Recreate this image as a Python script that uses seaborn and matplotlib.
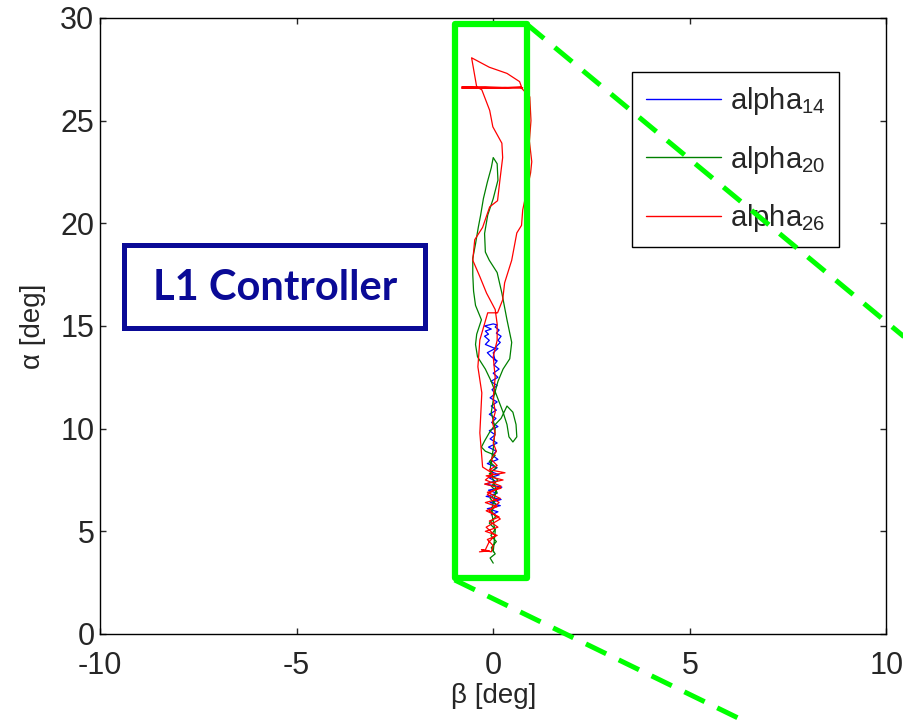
import matplotlib
matplotlib.use("Agg")
import matplotlib.pyplot as plt
import pandas as pd
import seaborn as sns
from matplotlib.patches import Rectangle
from matplotlib.lines import Line2D

# Sideslip (beta) vs angle-of-attack (alpha) trajectories, three runs
beta_14 = [-0.05, 0.12, -0.15, 0.18, -0.08, 0.2, -0.18, 0.1, -0.12, 0.22, -0.2, 0.05,
           -0.1, 0.15, -0.05, 0.1, -0.15, 0.12, -0.02, 0.08, -0.12, 0.1, -0.08, 0.05,
           -0.1, 0.12, -0.04, 0.07, -0.1, 0.08, -0.05, 0.1, -0.08, 0.05, -0.03, 0.1,
           -0.06, 0.12, 0.0, 0.15, 0.02, 0.1, -0.05, -0.15, 0.05, -0.2, -0.1, -0.22,
           -0.12, -0.2, -0.05, -0.22, 0.0, 0.1, 0.05, 0.15, 0.08, 0.2, 0.12, 0.18,
           0.05, 0.12, 0.0, 0.05]
alpha_14 = [5.8, 5.95, 6.1, 6.25, 6.4, 6.55, 6.7, 6.85, 7.0, 7.15, 7.3, 7.45,
            7.6, 7.75, 7.9, 8.1, 8.3, 8.5, 8.7, 8.9, 9.1, 9.3, 9.5, 9.7,
            9.9, 10.1, 10.3, 10.5, 10.7, 10.9, 11.1, 11.3, 11.5, 11.7, 11.9, 12.1,
            12.3, 12.5, 12.7, 12.9, 13.1, 13.3, 13.5, 13.7, 13.9, 14.1, 14.3, 14.5,
            14.6, 14.75, 14.85, 15.0, 15.1, 15.05, 14.95, 14.8, 14.65, 14.5, 14.3, 14.2,
            13.95, 13.9, 13.7, 13.3]

beta_20 = [0.0, -0.08, 0.05, -0.05, 0.08, -0.06, 0.05, -0.1, 0.06, -0.04, 0.08, -0.08,
           0.1, -0.05, 0.12, -0.1, 0.08, -0.1, 0.05, -0.2, -0.3, -0.22, -0.1, 0.05,
           0.2, 0.35, 0.5, 0.58, 0.6, 0.5, 0.4, 0.35, 0.25, 0.15, 0.05, -0.05,
           -0.2, -0.4, -0.45, -0.42, -0.3, -0.45, -0.5, -0.52, -0.52, -0.45, -0.38, -0.32,
           -0.25, -0.15, -0.05, 0.0, 0.1, 0.12, 0.0, -0.14, -0.22, -0.2, -0.1, 0.1,
           0.22, 0.35, 0.47, 0.42, 0.25, 0.12, 0.02, -0.05, 0.05, 0.0, -0.08, 0.08,
           -0.05, 0.05, 0.0]
alpha_20 = [3.45, 3.7, 3.9, 4.2, 4.5, 4.8, 5.1, 5.4, 5.7, 6.0, 6.3, 6.6,
            6.9, 7.2, 7.5, 7.8, 8.1, 8.4, 8.7, 8.9, 9.1, 9.4, 9.8, 10.2,
            10.5, 11.1, 10.8, 10.2, 9.6, 9.35, 9.6, 10.2, 10.8, 11.3, 11.8, 12.3,
            12.9, 13.5, 14.1, 14.6, 15.3, 16.0, 16.7, 17.5, 18.3, 19.0, 19.8, 20.4,
            21.2, 22.0, 22.7, 23.2, 22.9, 22.1, 21.2, 20.4, 19.5, 18.6, 18.2, 17.6,
            16.6, 15.3, 14.2, 13.4, 12.9, 12.3, 11.6, 10.8, 10.0, 9.0, 8.0, 7.0,
            6.0, 5.0, 4.0]

beta_26 = [-0.35, -0.1, -0.3, -0.05, 0.0, -0.15, 0.1, -0.2, 0.12, -0.1, 0.15, -0.18,
           0.1, -0.2, 0.18, -0.15, 0.2, -0.22, 0.25, -0.18, 0.3, -0.1, 0.1, -0.05,
           0.08, 0.0, 0.05, -0.02, 0.05, 0.0, 0.05, 0.0, 0.1, 0.1, 0.05, -0.17,
           -0.34, -0.52, -0.47, -0.27, -0.09, 0.11, 0.17, 0.24, 0.22, -0.01, -0.09, -0.29,
           -0.42, -0.55, -0.1, 0.35, 0.67, 0.72, 0.3, -0.2, -0.8, -0.3, 0.3, 0.75,
           -0.8, 0.2, 0.7,
           0.93, 0.96, 0.92, 0.98, 0.95, 0.75, 0.72, 0.6, 0.47, 0.29, 0.24, 0.11,
           -0.14, -0.34, -0.39, -0.29, -0.34, -0.27, 0.0, -0.2, 0.2, -0.15, 0.15, -0.1,
           0.18, -0.18, 0.05, -0.1, -0.2]
alpha_26 = [4.0, 4.05, 4.1, 4.0, 4.3, 4.6, 4.8, 5.0, 5.2, 5.5, 5.7, 6.0,
            6.2, 6.4, 6.6, 6.9, 7.1, 7.3, 7.5, 7.7, 7.85, 8.0, 8.2, 8.5,
            8.9, 9.3, 9.8, 10.3, 10.8, 11.5, 12.5, 13.5, 14.3, 15.1, 15.8, 16.6,
            17.4, 18.2, 19.2, 19.8, 20.8, 21.1, 22.1, 23.2, 23.9, 24.7, 25.5, 26.5,
            26.64, 28.06, 27.6, 27.3, 26.9, 26.64, 26.6, 26.65, 26.64, 26.6, 26.62, 26.6,
            26.58, 26.6, 26.62,
            26.16, 25.0, 24.0, 23.0, 22.45, 20.65, 19.9, 19.53, 18.2, 17.1, 16.27, 15.64,
            15.64, 14.32, 13.01, 11.74, 9.79, 8.13, 7.8, 7.5, 7.2, 6.8, 6.4, 6.0,
            5.6, 5.2, 4.8, 4.5, 4.1]

run_names = ["alpha_14", "alpha_20", "alpha_26"]
run_colors = ["#0000FF", "#008000", "#FF0000"]
legend_labels = ["alpha$_{14}$", "alpha$_{20}$", "alpha$_{26}$"]

frames = []
for name, b, a in zip(run_names, [beta_14, beta_20, beta_26], [alpha_14, alpha_20, alpha_26]):
    frames.append(pd.DataFrame({"beta": b, "alpha": a, "run": name, "step": range(len(b))}))
df = pd.concat(frames, ignore_index=True)

sns.set_style("white")
plt.rcParams["font.family"] = ["Liberation Sans", "DejaVu Sans"]
plt.rcParams["mathtext.fontset"] = "custom"
plt.rcParams["mathtext.rm"] = "Liberation Sans"
plt.rcParams["mathtext.default"] = "regular"
plt.rcParams["axes.unicode_minus"] = False

fig = plt.figure(figsize=(9.04, 7.21), dpi=100)
ax = fig.add_axes([0.1106, 0.1207, 0.8700, 0.8544])

sns.lineplot(data=df, x="beta", y="alpha", hue="run", palette=dict(zip(run_names, run_colors)),
             sort=False, estimator=None, units="run", linewidth=0.9, legend=False, ax=ax)

ax.set_xlim(-10, 10)
ax.set_ylim(0, 30)
ax.set_xticks([-10, -5, 0, 5, 10])
ax.set_yticks([0, 5, 10, 15, 20, 25, 30])
ax.tick_params(direction="in", length=4, width=1, labelsize=22, top=True, right=True,
               bottom=True, left=True)
ax.tick_params(axis="y", pad=4)
ax.tick_params(axis="x", pad=12)
for s in ax.spines.values():
    s.set_color("black")
    s.set_linewidth(1.0)
ax.set_xlabel("β [deg]", fontsize=20, labelpad=2)
ax.set_ylabel("α [deg]", fontsize=20, labelpad=10)

# zoom window and its guide lines
bright_green = "#00FF00"
ax.add_patch(Rectangle((-0.98, 2.73), 1.83, 26.97, fill=False, edgecolor=bright_green,
                       linewidth=4.5, joinstyle="round", zorder=5, clip_on=False))
ax.plot([0.85, 10.45], [29.7, 14.47], color=bright_green, linewidth=3.6,
        linestyle=(0, (4.5, 2.8)), clip_on=False, zorder=5)
ax.plot([-0.98, 6.45], [2.63, -4.3], color=bright_green, linewidth=3.6,
        linestyle=(0, (4.5, 2.8)), clip_on=False, zorder=5)

# controller tag
navy = "#0A0A96"
ax.add_patch(Rectangle((-9.39, 14.9), 7.65, 4.05, fill=False, edgecolor=navy,
                       linewidth=3.6, zorder=6))
ax.text(-5.55, 16.85, "L1 Controller", color=navy, fontsize=30, fontweight="bold",
        family=["Lato", "DejaVu Sans"], ha="center", va="center", zorder=6)

handles = [Line2D([], [], color=c, linewidth=1.0) for c in run_colors]
leg = ax.legend(handles, legend_labels, loc="upper left", bbox_to_anchor=(0.677, 0.912),
                frameon=True, fancybox=False, edgecolor="black", framealpha=1,
                fontsize=21, handlelength=2.6, handletextpad=0.3, labelspacing=0.9,
                borderpad=0.45, borderaxespad=0)
leg.get_frame().set_linewidth(1.0)
leg.set_zorder(4)

fig.savefig("out.png", dpi=100)
